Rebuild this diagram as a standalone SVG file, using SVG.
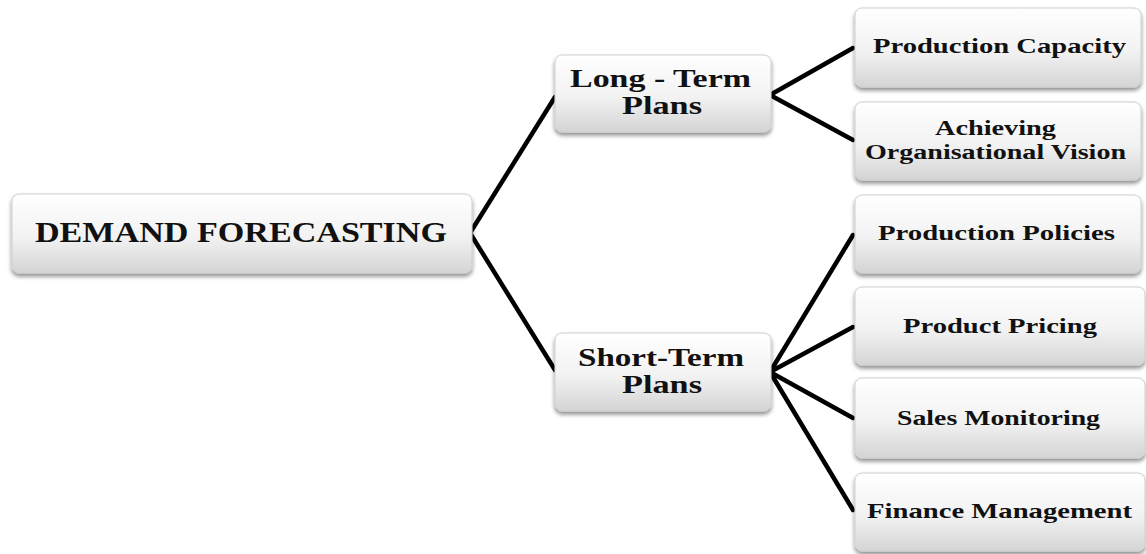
<svg xmlns="http://www.w3.org/2000/svg" width="1146" height="554" viewBox="0 0 1146 554">
  <defs>
    <linearGradient id="boxFill" x1="0" y1="0" x2="0" y2="1">
      <stop offset="0" stop-color="#ffffff"/>
      <stop offset="0.55" stop-color="#f2f2f2"/>
      <stop offset="1" stop-color="#d4d4d4"/>
    </linearGradient>
    <filter id="shadow" x="-5%" y="-10%" width="110%" height="130%">
      <feGaussianBlur in="SourceAlpha" stdDeviation="2"/>
      <feOffset dx="0" dy="3" result="b"/>
      <feComponentTransfer><feFuncA type="linear" slope="0.45"/></feComponentTransfer>
      <feMerge><feMergeNode/><feMergeNode in="SourceGraphic"/></feMerge>
    </filter>
    <style>
      .box { fill: url(#boxFill); stroke: #cfcfcf; stroke-width: 1; filter: url(#shadow); }
      .lbl { font-family: "Liberation Serif", "Times New Roman", serif; font-weight: bold; fill: #111; }
      .big { font-size: 29px; }
      .mid { font-size: 25px; }
      .sm { font-size: 22px; }
      .two { font-size: 20px; }
      .wire { stroke: #000; stroke-width: 4.5; fill: none; stroke-linecap: round; stroke-linejoin: round; }
    </style>
  </defs>

  <rect width="1146" height="554" fill="#ffffff"/>

  <!-- connectors -->
  <g id="connectors">
    <polyline class="wire" points="555,97 470,233 555,370"/>
    <polyline class="wire" points="853,48 770,95 853,140"/>
    <path class="wire" d="M770,372 L853,235 M770,372 L853,327 M770,372 L853,418 M770,372 L853,510"/>
  </g>

  <g id="demand-forecasting">
    <rect class="box" x="12" y="194" width="460" height="79" rx="7"/>
    <text class="lbl big" x="35" y="242" textLength="412" lengthAdjust="spacingAndGlyphs">DEMAND FORECASTING</text>
  </g>

  <g id="long-term-plans">
    <rect class="box" x="555" y="55" width="216" height="77" rx="7"/>
    <text class="lbl mid" x="570" y="87" textLength="181" lengthAdjust="spacingAndGlyphs">Long - Term</text>
    <text class="lbl mid" x="622" y="114" textLength="80" lengthAdjust="spacingAndGlyphs">Plans</text>
  </g>

  <g id="short-term-plans">
    <rect class="box" x="555" y="333" width="216" height="78" rx="7"/>
    <text class="lbl mid" x="578" y="366" textLength="166" lengthAdjust="spacingAndGlyphs">Short-Term</text>
    <text class="lbl mid" x="622" y="393" textLength="80" lengthAdjust="spacingAndGlyphs">Plans</text>
  </g>

  <g id="production-capacity">
    <rect class="box" x="855" y="8" width="286" height="79" rx="7"/>
    <text class="lbl sm" x="873" y="53" textLength="253" lengthAdjust="spacingAndGlyphs">Production Capacity</text>
  </g>

  <g id="organisational-vision">
    <rect class="box" x="855" y="102" width="286" height="78" rx="7"/>
    <text class="lbl two" x="935" y="135" textLength="121" lengthAdjust="spacingAndGlyphs">Achieving</text>
    <text class="lbl two" x="865" y="159" textLength="261" lengthAdjust="spacingAndGlyphs">Organisational Vision</text>
  </g>

  <g id="production-policies">
    <rect class="box" x="855" y="195" width="286" height="78" rx="7"/>
    <text class="lbl sm" x="878" y="240" textLength="237" lengthAdjust="spacingAndGlyphs">Production Policies</text>
  </g>

  <g id="product-pricing">
    <rect class="box" x="855" y="287" width="290" height="78" rx="7"/>
    <text class="lbl sm" x="903" y="333" textLength="194" lengthAdjust="spacingAndGlyphs">Product Pricing</text>
  </g>

  <g id="sales-monitoring">
    <rect class="box" x="855" y="378" width="290" height="80" rx="7"/>
    <text class="lbl sm" x="897" y="425" textLength="203" lengthAdjust="spacingAndGlyphs">Sales Monitoring</text>
  </g>

  <g id="finance-management">
    <rect class="box" x="855" y="473" width="290" height="78" rx="7"/>
    <text class="lbl sm" x="867" y="518" textLength="265" lengthAdjust="spacingAndGlyphs">Finance Management</text>
  </g>
</svg>
